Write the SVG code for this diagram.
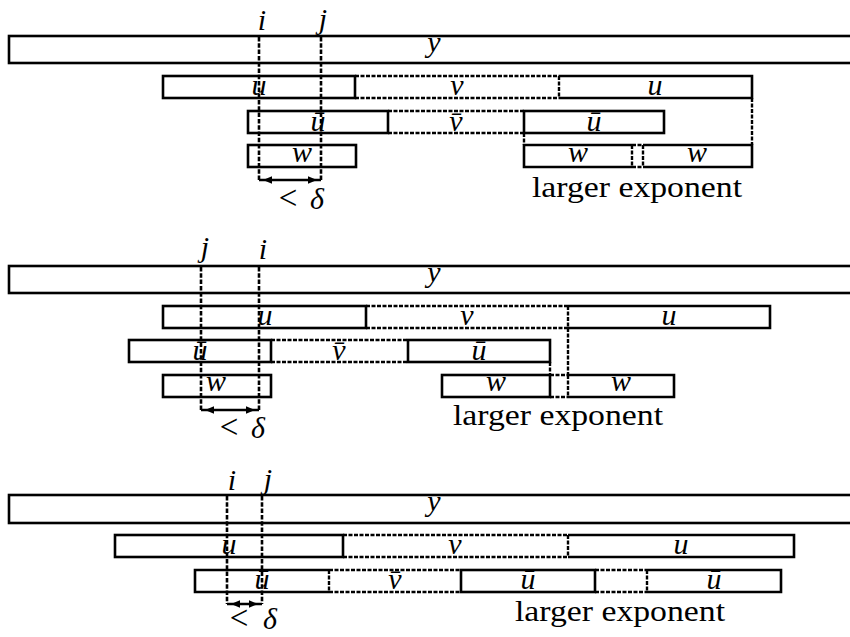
<svg xmlns="http://www.w3.org/2000/svg" width="850" height="637" viewBox="0 0 850 637">
  <style>
    .box { fill: none; stroke: #000; stroke-width: 2.6; }
    .dash { fill: none; stroke: #000; stroke-width: 2.4; stroke-dasharray: 4 1.5; }
    .guide { fill: none; stroke: #000; stroke-width: 2.6; stroke-dasharray: 4.5 1.8; }
    .arrow { stroke: #000; stroke-width: 2.4; marker-start: url(#head); marker-end: url(#head); }
    .lbl { font-family: "Liberation Serif", "DejaVu Serif", serif; font-style: italic; font-size: 30px; text-anchor: middle; fill: #000; }
    .rm { font-family: "Liberation Serif", "DejaVu Serif", serif; font-size: 30px; text-anchor: middle; fill: #000; }
    .lt { font-family: "Liberation Serif", "DejaVu Serif", serif; font-size: 33px; text-anchor: middle; fill: #000; }
  </style>
  <defs>
    <!-- filled head whose tip sits 4px inside the line end -->
    <marker id="head" markerUnits="userSpaceOnUse" viewBox="-14 -5 15 10" refX="0" refY="0" markerWidth="15" markerHeight="10" orient="auto-start-reverse">
      <path d="M-4,0 L-13,-3.8 L-13,3.8 Z" fill="#000"/>
    </marker>
  </defs>
  <rect width="850" height="637" fill="#fff"/>

  <!-- ===================== first case: i left of j ===================== -->
  <g id="p1">
    <g id="p1-y"><rect class="box" x="9" y="36" width="848" height="27"/><text class="lbl" x="434" y="52">y</text></g>
    <g id="p1-i"><text class="lbl" x="262" y="30">i</text></g>
    <g id="p1-j"><text class="lbl" x="323" y="29">j</text></g>

    <g id="p1-u1"><rect class="box" x="163" y="76" width="192" height="22"/><text class="lbl" x="259" y="95">u</text></g>
    <g id="p1-v"><path class="dash" d="M355,76 H559 M355,98 H559"/><text class="lbl" x="457" y="95">v</text></g>
    <g id="p1-u2"><path class="box" d="M559,76 H752 V98 H559"/><path class="dash" d="M559,76 V98"/><text class="lbl" x="655" y="95">u</text></g>

    <g id="p1-ub1"><rect class="box" x="248" y="111" width="140" height="22"/><text class="lbl" x="318" y="131">u&#x304;</text></g>
    <g id="p1-vb"><path class="dash" d="M388,111 H524 M388,133 H524"/><text class="lbl" x="456" y="131">v&#x304;</text></g>
    <g id="p1-ub2"><rect class="box" x="524" y="111" width="140" height="22"/><text class="lbl" x="594" y="131">u&#x304;</text></g>

    <g id="p1-w1"><rect class="box" x="248" y="145" width="108" height="22"/><text class="lbl" x="302" y="162">w</text></g>
    <g id="p1-w2"><path class="box" d="M632,145 H524 V167 H632"/><path class="dash" d="M632,145 V167"/><text class="lbl" x="578" y="162">w</text></g>
    <g id="p1-gap"><path class="dash" d="M632,145 H643 M632,167 H643"/></g>
    <g id="p1-w3"><path class="box" d="M643,145 H752 V167 H643"/><path class="dash" d="M643,145 V167"/><text class="lbl" x="697" y="162">w</text></g>

    <g id="p1-delta"><text class="lt" x="288" y="209">&lt;</text><text class="lbl" x="317" y="209">δ</text></g>
    <g id="p1-note"><text class="rm" x="637" y="197" textLength="210" lengthAdjust="spacingAndGlyphs">larger exponent</text></g>

    <g id="p1-connectors">
      <line class="guide" x1="259" y1="37" x2="259" y2="180"/>
      <line class="guide" x1="321" y1="37" x2="321" y2="180"/>
      <line class="dash" x1="752" y1="98" x2="752" y2="145"/>
      <line class="dash" x1="524" y1="133" x2="524" y2="145"/>
      <line class="arrow" x1="259" y1="180" x2="321" y2="180"/>
    </g>
  </g>

  <!-- ===================== second case: j left of i ===================== -->
  <g id="p2">
    <g id="p2-y"><rect class="box" x="9" y="266" width="848" height="27"/><text class="lbl" x="434" y="282">y</text></g>
    <g id="p2-j"><text class="lbl" x="205" y="257">j</text></g>
    <g id="p2-i"><text class="lbl" x="263" y="259">i</text></g>

    <g id="p2-u1"><rect class="box" x="163" y="306" width="203" height="22"/><text class="lbl" x="265" y="325">u</text></g>
    <g id="p2-v"><path class="dash" d="M366,306 H568 M366,328 H568"/><text class="lbl" x="467" y="325">v</text></g>
    <g id="p2-u2"><path class="box" d="M568,306 H770 V328 H568"/><path class="dash" d="M568,306 V328"/><text class="lbl" x="669" y="325">u</text></g>

    <g id="p2-ub1"><rect class="box" x="129" y="340" width="142" height="22"/><text class="lbl" x="200" y="360">u&#x304;</text></g>
    <g id="p2-vb"><path class="dash" d="M271,340 H408 M271,362 H408"/><text class="lbl" x="339" y="360">v&#x304;</text></g>
    <g id="p2-ub2"><rect class="box" x="408" y="340" width="142" height="22"/><text class="lbl" x="479" y="360">u&#x304;</text></g>

    <g id="p2-w1"><rect class="box" x="163" y="375" width="108" height="22"/><text class="lbl" x="216" y="391">w</text></g>
    <g id="p2-w2"><rect class="box" x="442" y="375" width="108" height="22"/><text class="lbl" x="496" y="391">w</text></g>
    <g id="p2-gap"><path class="dash" d="M550,375 H568 M550,397 H568"/></g>
    <g id="p2-w3"><path class="box" d="M568,375 H674 V397 H568"/><path class="dash" d="M568,375 V397"/><text class="lbl" x="621" y="391">w</text></g>

    <g id="p2-delta"><text class="lt" x="229" y="438">&lt;</text><text class="lbl" x="258" y="438">δ</text></g>
    <g id="p2-note"><text class="rm" x="558" y="425" textLength="210" lengthAdjust="spacingAndGlyphs">larger exponent</text></g>

    <g id="p2-connectors">
      <line class="guide" x1="201" y1="267" x2="201" y2="410"/>
      <line class="guide" x1="259" y1="267" x2="259" y2="410"/>
      <line class="dash" x1="568" y1="328" x2="568" y2="375"/>
      <line class="dash" x1="550" y1="362" x2="550" y2="375"/>
      <line class="arrow" x1="201" y1="410" x2="259" y2="410"/>
    </g>
  </g>

  <!-- ===================== third case: two blocks only ===================== -->
  <g id="p3">
    <g id="p3-y"><rect class="box" x="9" y="495" width="848" height="28"/><text class="lbl" x="434" y="511">y</text></g>
    <g id="p3-i"><text class="lbl" x="232" y="490">i</text></g>
    <g id="p3-j"><text class="lbl" x="268" y="489">j</text></g>

    <g id="p3-u1"><rect class="box" x="115" y="535" width="228" height="22"/><text class="lbl" x="229" y="554">u</text></g>
    <g id="p3-v"><path class="dash" d="M343,535 H568 M343,557 H568"/><text class="lbl" x="455" y="554">v</text></g>
    <g id="p3-u2"><path class="box" d="M568,535 H794 V557 H568"/><path class="dash" d="M568,535 V557"/><text class="lbl" x="681" y="554">u</text></g>

    <g id="p3-ub1"><path class="box" d="M329,570 H195 V592 H329"/><path class="dash" d="M329,570 V592"/><text class="lbl" x="262" y="589">u&#x304;</text></g>
    <g id="p3-vb"><path class="dash" d="M329,570 H461 M329,592 H461"/><text class="lbl" x="395" y="589">v&#x304;</text></g>
    <g id="p3-ub2"><rect class="box" x="461" y="570" width="134" height="22"/><text class="lbl" x="528" y="589">u&#x304;</text></g>
    <g id="p3-gap"><path class="dash" d="M595,570 H647 M595,592 H647"/></g>
    <g id="p3-ub3"><path class="box" d="M647,570 H781 V592 H647"/><path class="dash" d="M647,570 V592"/><text class="lbl" x="714" y="589">u&#x304;</text></g>

    <g id="p3-delta"><text class="lt" x="239" y="629">&lt;</text><text class="lbl" x="270" y="629">δ</text></g>
    <g id="p3-note"><text class="rm" x="620" y="621" textLength="210" lengthAdjust="spacingAndGlyphs">larger exponent</text></g>

    <g id="p3-connectors">
      <line class="guide" x1="227" y1="496" x2="227" y2="604"/>
      <line class="guide" x1="262" y1="496" x2="262" y2="604"/>
      <line class="arrow" x1="227" y1="604" x2="262" y2="604"/>
    </g>
  </g>
</svg>
